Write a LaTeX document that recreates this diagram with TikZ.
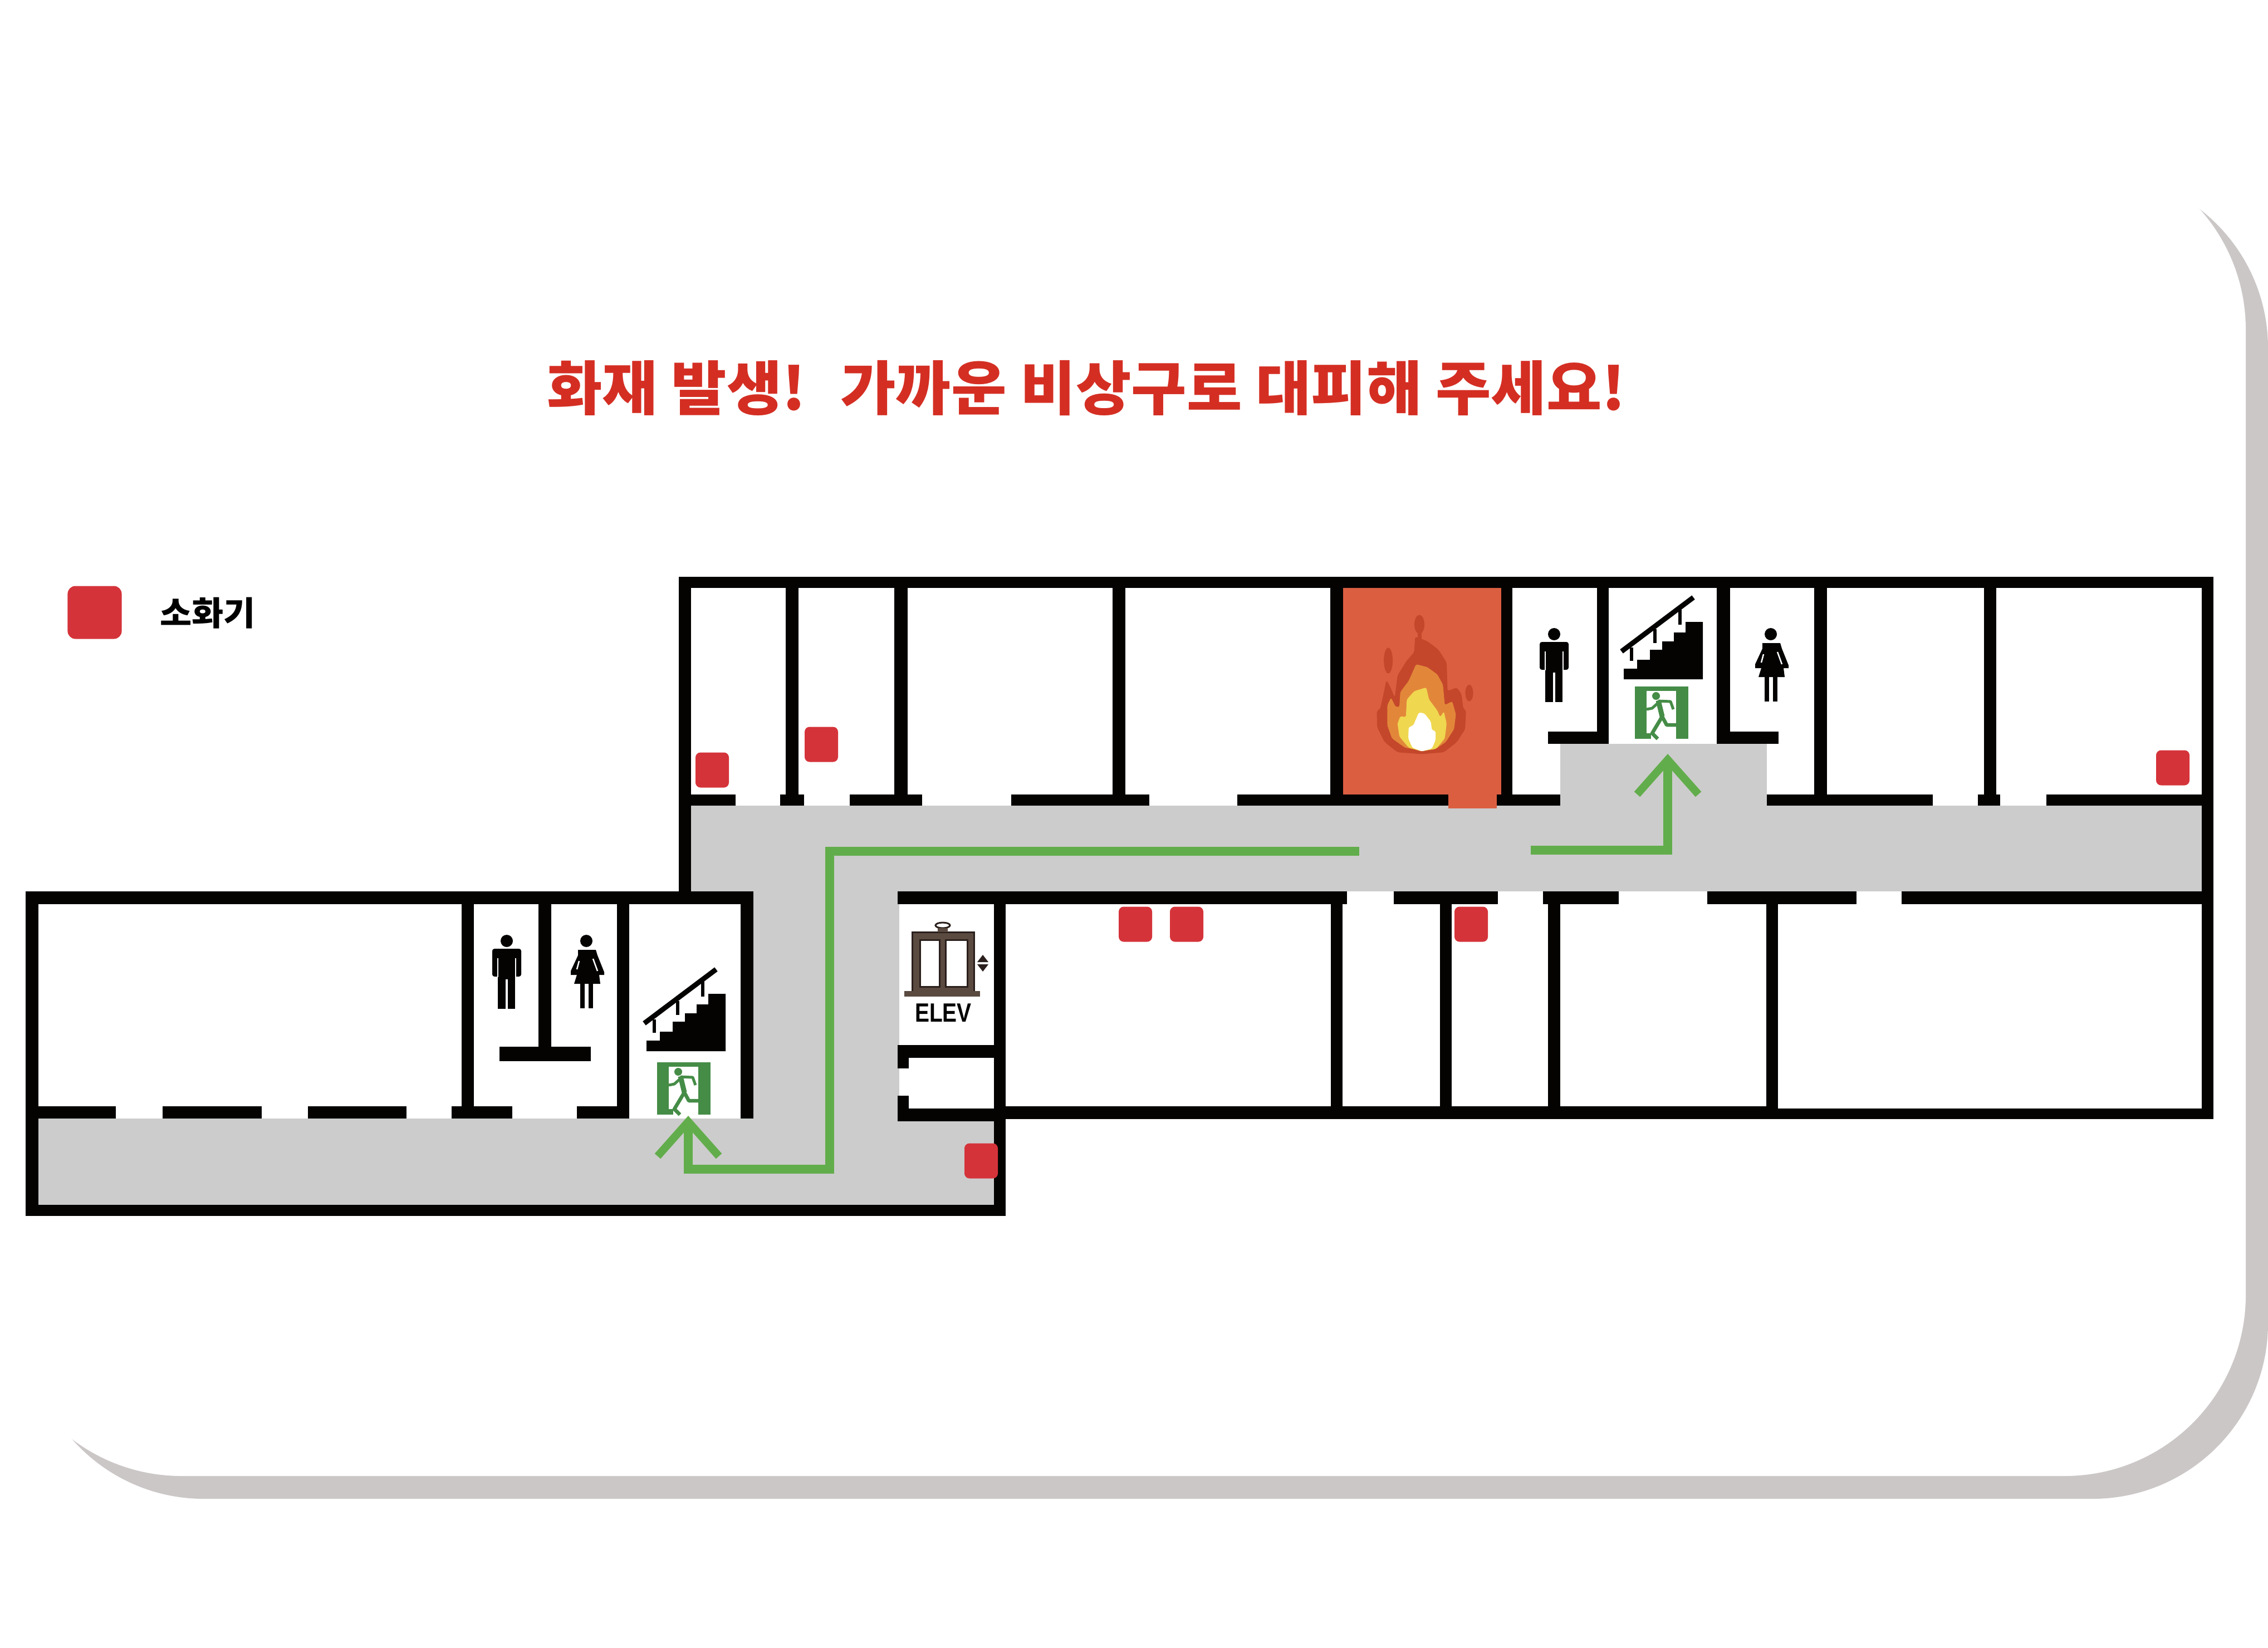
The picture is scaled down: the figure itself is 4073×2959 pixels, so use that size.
\documentclass[tikz,border=0pt]{standalone}
\usepackage{fontspec}
\newfontfamily\krfont{Noto Sans CJK KR}
\newfontfamily\krblack{Noto Sans CJK KR Black}
\setmainfont{Liberation Sans}
\usetikzlibrary{arrows.meta}

\definecolor{panelshadow}{HTML}{CCC7C7}
\definecolor{hallgrey}{HTML}{CCCCCC}
\definecolor{wallblack}{HTML}{040302}
\definecolor{routegreen}{HTML}{62AD4B}
\definecolor{exitgreen}{HTML}{458C47}
\definecolor{firered}{HTML}{DB5E41}
\definecolor{extred}{HTML}{D5333A}
\definecolor{titlered}{HTML}{D42E23}
\definecolor{flamedark}{HTML}{C4472B}
\definecolor{flameorange}{HTML}{E2873A}
\definecolor{flameyellow}{HTML}{EFD750}
\definecolor{elevdark}{HTML}{2A1F1C}
\definecolor{elevmid}{HTML}{5A4A40}

\begin{document}
\begin{tikzpicture}[
    x=0.01cm,
    y=-0.01cm,
    wall/.style={fill=wallblack},
    hall/.style={fill=hallgrey},
    extinguisher/.style={
        fill=extred,
        rounded corners=0.09cm,
        minimum width=0.6cm,
        minimum height=0.63cm,
        inner sep=0pt
    },
    route/.style={
        draw=routegreen,
        line width=0.16cm,
        -{Straight Barb[length=0.62cm,width=1.1cm,line width=0.14cm]}
    },
    manicon/.pic={
        \fill[wallblack] (0,11) circle [radius=0.11cm];
        \fill[wallblack, rounded corners=0.04cm] (-26,25) -- (26,25) -- (26,75) -- (-26,75) -- cycle;
        \fill[wallblack] (-16,70) rectangle (15,133);
        \draw[white, line width=0.025cm] (-16,42) -- (-16,76);
        \draw[white, line width=0.025cm] (16,42) -- (16,76);
        \draw[white, line width=0.04cm] (0,80) -- (0,133);
    },
    womanicon/.pic={
        \fill[wallblack] (0,11) circle [radius=0.11cm];
        \fill[wallblack] (-15,27) -- (17,27) -- (20,37) -- (32,67) -- (32,72) -- (23,72)
            -- (25,88) -- (-22,88) -- (-17,72) -- (-28,72) -- (-28,65) -- (-15,37) -- cycle;
        \draw[white, line width=0.025cm] (-13,47) -- (-17,62);
        \draw[white, line width=0.025cm] (12,43) -- (20,65);
        \fill[wallblack] (-11,88) rectangle (-3,132);
        \fill[wallblack] (4,88) rectangle (12,132);
    },
    stairicon/.pic={
        \fill[wallblack] (66,170) -- (66,151) -- (90,151) -- (90,135) -- (113,135) -- (113,117)
            -- (135,117) -- (135,102) -- (156,102) -- (156,86) -- (177,86) -- (177,67)
            -- (208,67) -- (208,170) -- cycle;
        \draw[wallblack, line width=0.09cm] (62,120) -- (191,23);
        \draw[wallblack, line width=0.06cm] (80,113) -- (80,137);
        \draw[wallblack, line width=0.06cm] (122,80) -- (122,105);
        \draw[wallblack, line width=0.06cm] (167,45) -- (167,72);
    },
    exiticon/.pic={
        \fill[exitgreen] (86,183) rectangle (182,277);
        \fill[white] (107,191) rectangle (160,277);
        \fill[exitgreen] (107,267) rectangle (115,277);
        \fill[exitgreen] (124,200) circle [radius=0.07cm];
        \draw[exitgreen, line width=0.09cm, line join=round] (128,208) -- (135,237);
        \draw[exitgreen, line width=0.05cm, line join=round] (128,209) -- (150,210) -- (155,224);
        \draw[exitgreen, line width=0.05cm, line join=round] (127,213) -- (117,222) -- (107,224);
        \draw[exitgreen, line width=0.065cm, line join=round] (135,237) -- (123,257) -- (117,267) -- (127,277);
        \draw[exitgreen, line width=0.065cm, line join=round] (135,237) -- (143,252) -- (167,252);
    }
]

\useasboundingbox (0,0) rectangle (4073,2959);

% Panel
\fill[panelshadow, rounded corners=3.15cm] (51,310) rectangle (4073,2692);
\fill[white, rounded corners=3.25cm] (1,267) rectangle (4033,2651);

% Title and legend
\node[xscale=1.025, transform shape] (title) at (1951,697) {\krblack\fontsize{30}{36}\selectfont\color{titlered}화재 발생!\hspace{0.6cm}가까운 비상구로 대피해 주세요!};
\node[extinguisher, minimum width=0.97cm, minimum height=0.95cm, rounded corners=0.14cm] (legendbox) at (170,1100) {};
\node[xscale=1.04, transform shape] (legendtext) at (373,1101) {\krfont\bfseries\fontsize{17}{20}\selectfont 소화기};

% Corridors
\fill[hall] (1241,1447) rectangle (3954,1601);
\fill[hall] (1353,1601) rectangle (1615,2164);
\fill[hall] (69,2009) rectangle (1785,2164);
\fill[hall] (2802,1336) rectangle (3173,1447);

% Burning room
\fill[firered] (2412,1056) rectangle (2696,1430);

% Upper wing walls
\fill[wall] (1219,1036) rectangle (3975,1056);
\fill[wall] (1219,1036) rectangle (1241,1610);
\fill[wall] (3954,1036) rectangle (3975,2010);
\fill[wall] (1411,1056) rectangle (1434,1427);
\fill[wall] (1606,1056) rectangle (1630,1427);
\fill[wall] (1998,1056) rectangle (2021,1427);
\fill[wall] (2389,1056) rectangle (2412,1427);
\fill[wall] (2696,1056) rectangle (2716,1427);
\fill[wall] (2868,1056) rectangle (2889,1336);
\fill[wall] (3083,1056) rectangle (3107,1336);
\fill[wall] (3258,1056) rectangle (3281,1427);
\fill[wall] (3563,1056) rectangle (3585,1427);
\fill[wall] (2780,1314) rectangle (2889,1336);
\fill[wall] (3083,1314) rectangle (3194,1336);

% Corridor walls, north side
\fill[wall] (1241,1427) rectangle (1321,1447);
\fill[wall] (1401,1427) rectangle (1444,1447);
\fill[wall] (1526,1427) rectangle (1656,1447);
\fill[wall] (1816,1427) rectangle (2064,1447);
\fill[wall] (2222,1427) rectangle (2802,1447);
\fill[wall] (3173,1427) rectangle (3471,1447);
\fill[wall] (3552,1427) rectangle (3592,1447);
\fill[wall] (3675,1427) rectangle (3975,1447);

% Corridor walls, south side
\fill[wall] (1612,1601) rectangle (2419,1624);
\fill[wall] (2503,1601) rectangle (2690,1624);
\fill[wall] (2771,1601) rectangle (2907,1624);
\fill[wall] (3066,1601) rectangle (3334,1624);
\fill[wall] (3415,1601) rectangle (3975,1624);
\fill[wall] (1785,1601) rectangle (1806,2184);
\fill[wall] (2390,1624) rectangle (2411,1990);
\fill[wall] (2586,1624) rectangle (2607,1990);
\fill[wall] (2780,1624) rectangle (2802,1990);
\fill[wall] (3172,1624) rectangle (3193,1990);
\fill[wall] (1785,1987) rectangle (3193,2010);
\fill[wall] (3193,1991) rectangle (3975,2010);

% Elevator walls
\fill[wall] (1612,1877) rectangle (1806,1900);
\fill[wall] (1612,1900) rectangle (1632,1919);
\fill[wall] (1612,1968) rectangle (1632,2014);
\fill[wall] (1612,1991) rectangle (1806,2014);

% Lower wing walls
\fill[wall] (46,1601) rectangle (1353,1624);
\fill[wall] (46,1601) rectangle (69,2184);
\fill[wall] (46,2164) rectangle (1806,2184);
\fill[wall] (829,1624) rectangle (851,1987);
\fill[wall] (967,1624) rectangle (990,1880);
\fill[wall] (1108,1624) rectangle (1130,2009);
\fill[wall] (1330,1624) rectangle (1353,2009);
\fill[wall] (897,1880) rectangle (1061,1906);
\fill[wall] (69,1987) rectangle (208,2009);
\fill[wall] (292,1987) rectangle (470,2009);
\fill[wall] (553,1987) rectangle (730,2009);
\fill[wall] (811,1987) rectangle (920,2009);
\fill[wall] (1036,1987) rectangle (1130,2009);

% Flame
\fill[firered] (2601,1425) rectangle (2688,1452);
\begin{scope}[shift={(2350,1040)}, x=0.00333cm, y=-0.00333cm]
    \fill[flamedark] (598,245) ellipse [x radius=0.09cm, y radius=0.17cm];
    \fill[flamedark] (430,440) ellipse [x radius=0.08cm, y radius=0.23cm];
    \fill[flamedark] (867,615) ellipse [x radius=0.07cm, y radius=0.15cm];
    \fill[flamedark] (590,290) rectangle (610,330);
    \fill[flamedark, rounded corners=0.04cm] (610,945) -- (480,935) -- (410,880) -- (370,800) -- (368,710) -- (385,705)
        -- (400,640) -- (420,545) -- (440,580) -- (465,640) -- (480,520) -- (530,440) -- (570,395)
        -- (575,310) -- (640,335) -- (700,380) -- (745,450) -- (750,605) -- (800,585) -- (825,620)
        -- (835,700) -- (850,710) -- (845,810) -- (800,880) -- (730,935) -- cycle;
    \fill[flameorange, rounded corners=0.03cm] (610,925) -- (520,910) -- (450,860) -- (425,790) -- (425,680) -- (445,640)
        -- (470,690) -- (490,690) -- (495,610) -- (540,550) -- (580,460) -- (640,475) -- (695,515)
        -- (725,570) -- (735,680) -- (775,660) -- (795,730) -- (785,810) -- (740,880) -- (680,920) -- cycle;
    \fill[flameyellow, rounded corners=0.03cm] (610,930) -- (540,910) -- (490,850) -- (480,780) -- (495,740) -- (525,745)
        -- (530,650) -- (570,605) -- (635,585) -- (650,650) -- (695,710) -- (710,745) -- (730,715)
        -- (745,780) -- (735,860) -- (690,915) -- cycle;
    \fill[white, rounded corners=0.03cm] (610,930) -- (560,910) -- (538,860) -- (540,800) -- (565,790) -- (595,720)
        -- (625,725) -- (660,770) -- (665,815) -- (685,820) -- (685,870) -- (665,915) -- cycle;
\end{scope}

% Icons
\pic at (2791,1128) {manicon};
\pic at (3180,1128) {womanicon};
\pic at (2850,1050) {stairicon};
\pic at (2850,1050) {exiticon};
\pic at (910,1679) {manicon};
\pic at (1053,1679) {womanicon};
\pic at (1095,1718) {stairicon};
\pic at (1094,1725) {exiticon};

% Elevator
\fill[elevmid, draw=elevdark, line width=0.03cm] (1638,1674) rectangle (1749,1783);
\fill[white, draw=elevdark, line width=0.03cm] (1652,1688) rectangle (1687,1772);
\fill[white, draw=elevdark, line width=0.03cm] (1698,1688) rectangle (1737,1772);
\fill[elevmid] (1624,1780) rectangle (1760,1790);
\draw[elevdark, line width=0.03cm, fill=white] (1693,1662) ellipse [x radius=0.13cm, y radius=0.05cm];
\fill[elevmid] (1684,1667) rectangle (1702,1674);
\fill[elevdark] (1765,1715) -- (1775,1728) -- (1755,1728) -- cycle;
\fill[elevdark] (1765,1745) -- (1775,1732) -- (1755,1732) -- cycle;
\node[xscale=0.82, transform shape, inner sep=0pt] (elevlabel) at (1694,1819) {\bfseries\fontsize{13.5}{16}\selectfont ELEV};

% Extinguishers
\node[extinguisher] (extone) at (1279,1383) {};
\node[extinguisher] (exttwo) at (1475,1337) {};
\node[extinguisher] (extthree) at (3902,1379) {};
\node[extinguisher] (extfour) at (2039,1660) {};
\node[extinguisher] (extfive) at (2131,1660) {};
\node[extinguisher] (extsix) at (2642,1660) {};
\node[extinguisher] (extseven) at (1762,2085) {};

% Routes
\coordinate (routeastart) at (2441,1529);
\coordinate (routeacorner) at (1490,1529);
\coordinate (routeabend) at (1490,2100);
\coordinate (routeaturn) at (1236,2100);
\coordinate (routeaend) at (1236,2004);
\coordinate (routebstart) at (2749,1527);
\coordinate (routebturn) at (2995,1527);
\coordinate (routebend) at (2995,1354);
\draw[route] (routeastart) -- (routeacorner) -- (routeabend) -- (routeaturn) -- (routeaend);
\draw[route] (routebstart) -- (routebturn) -- (routebend);

\end{tikzpicture}
\end{document}
